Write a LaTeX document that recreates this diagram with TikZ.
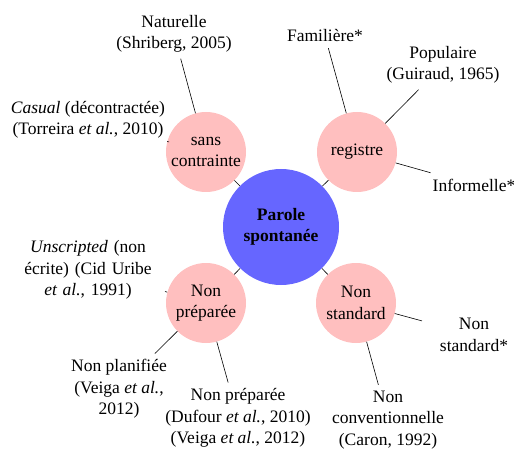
\documentclass[tikz,border=0pt]{standalone}
\usepackage{fontspec}
\setmainfont{Liberation Serif}
\definecolor{pinkc}{HTML}{FFBFBF}
\definecolor{bluec}{HTML}{6666FF}
\begin{document}
\begin{tikzpicture}[x=1pt,y=-1pt,
  every node/.style={font=\fontsize{17.5}{21.5}\selectfont},
  main/.style={circle,fill=bluec,minimum size=116pt,inner sep=0pt,align=center,font=\fontsize{17.5}{21.5}\selectfont\bfseries},
  sub/.style={circle,fill=pinkc,minimum size=80pt,inner sep=0pt,align=center},
  leaf/.style={align=center,inner sep=5.8pt},
  link/.style={draw=black,line width=0.6pt}]
\useasboundingbox (0,0) rectangle (514,449);
\node[main] (c) at (281,227) {Parole\\spontanée};
\node[sub] (sc) at (206,152) {sans\\contrainte};
\node[sub] (rg) at (357,152) {registre};
\node[sub] (np) at (206,303) {Non\\préparée};
\node[sub] (ns) at (356,303) {Non\\standard};
\node[leaf] (nat) at (174,34) {Naturelle\\(Shriberg, 2005)};
\node[leaf,inner sep=3.8pt] (cas) at (88,120) {\textit{Casual} (décontractée)\\(Torreira \textit{et al.}, 2010)};
\node[leaf] (fam) at (325,36) {Familière*};
\node[leaf] (pop) at (443,65) {Populaire\\(Guiraud, 1965)};
\node[leaf] (inf) at (474,185) {Informelle*};
\node[leaf,text width=146pt,inner sep=3.8pt] (uns) at (88,270) {\textit{Unscripted} (non\\écrite) (Cid Uribe\\\textit{et al.}, 1991)};
\node[leaf] (npl) at (119,389) {Non planifiée\\(Veiga \textit{et al.},\\2012)};
\node[leaf] (npr) at (238,418) {Non préparée\\(Dufour \textit{et al.}, 2010)\\(Veiga \textit{et al.}, 2012)};
\node[leaf] (ncv) at (388,420) {Non\\conventionnelle\\(Caron, 1992)};
\node[leaf,text width=92pt] (nst) at (474,335) {Non\\standard*};
\draw[link] (c) -- (sc);
\draw[link] (c) -- (rg);
\draw[link] (c) -- (np);
\draw[link] (c) -- (ns);
\draw[link] (sc) -- (nat);
\draw[link] (sc) -- (cas);
\draw[link] (rg) -- (fam);
\draw[link] (rg) -- (pop);
\draw[link] (rg) -- (inf);
\draw[link] (np) -- (uns);
\draw[link] (np) -- (npl);
\draw[link] (np) -- (npr);
\draw[link] (ns) -- (ncv);
\draw[link] (ns) -- (nst);
\end{tikzpicture}
\end{document}
